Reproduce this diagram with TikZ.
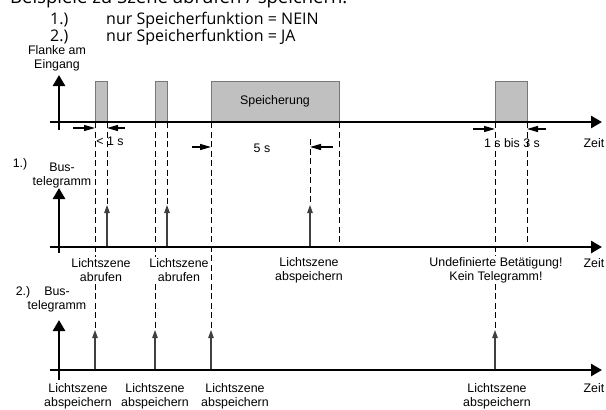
\documentclass[tikz,border=0pt]{standalone}
\usepackage{fontspec}
\setmainfont{Liberation Sans}
\newfontfamily\headfont{Open Sans}
\usepackage{tikz}
\usetikzlibrary{arrows.meta,positioning}
\definecolor{pulsefill}{RGB}{192,192,192}
\definecolor{pulseline}{RGB}{120,120,120}

\begin{document}
\begin{tikzpicture}[x=1pt,y=-1pt,
    lbl/.style={align=center,font=\fontsize{12.4}{14}\selectfont,inner sep=1pt},
    cutlbl/.style={lbl,fill=white},
    head/.style={anchor=base west,inner sep=0pt,font=\headfont\fontsize{16}{18}\selectfont},
    pulse/.style={draw=pulseline,fill=pulsefill,line width=0.8pt,inner sep=0pt,outer sep=0pt,anchor=south west,minimum height=41pt},
    axis/.style={line width=2.6pt,-{Triangle[length=11pt,width=12pt]}},
    yaxis/.style={line width=2.6pt,-{Triangle[length=11pt,width=12pt]}},
    tele/.style={line width=1.2pt,draw=black!75,-{Triangle[length=8pt,width=5.5pt]}},
    dim/.style={line width=1.3pt,-{Triangle[length=11pt,width=6pt]}},
    guide/.style={line width=0.9pt,dash pattern=on 6pt off 3.5pt}]
   \useasboundingbox (0,0) rectangle (606,410);
   \node[head,font=\headfont\fontsize{18.5}{20}\selectfont] (title) at (10,3) {Beispiele zu Szene abrufen / speichern:};
   \node[head] (n1) at (50,24) {1.)};
   \node[head] (t1) at (106,24) {nur Speicherfunktion = NEIN};
   \node[head] (n2) at (50,41) {2.)};
   \node[head] (t2) at (106,41) {nur Speicherfunktion = JA};
   % Flanke am Eingang
   \node[pulse,minimum width=12pt] (p1) at (95,122) {};
   \node[pulse,minimum width=12pt] (p2) at (155,122) {};
   \node[pulse,minimum width=128pt,font=\fontsize{12.4}{14}\selectfont] (sp) at (211,122) {Speicherung};
   \node[pulse,minimum width=32pt] (p4) at (495,122) {};
   \coordinate (e0) at (50,122);   \coordinate (e1) at (602,122);
   \coordinate (ebot) at (59,130); \coordinate (etop) at (59,75);
   \coordinate (b0) at (50,247);   \coordinate (b1) at (602,247);
   \coordinate (bbot) at (59,253); \coordinate (btop) at (59,188);
   \coordinate (c0) at (50,370);   \coordinate (c1) at (602,370);
   \coordinate (cbot) at (59,380); \coordinate (ctop) at (59,320);
   \coordinate (r1) at (107,205); \coordinate (r2) at (167,205); \coordinate (r3) at (310,205);
   \coordinate (w1) at (95,330);  \coordinate (w2) at (155,330);
   \coordinate (w3) at (211,330); \coordinate (w4) at (495,330);
   \coordinate (m5) at (310,139);
   \draw[guide] (p1.south west) -- (w1);
   \draw[guide] (p1.south east) -- (r1);
   \draw[guide] (p2.south west) -- (w2);
   \draw[guide] (p2.south east) -- (r2);
   \draw[guide] (sp.south west) -- (w3);
   \draw[guide] (sp.south east) -- (sp.south east |- b0);
   \draw[guide] (m5) -- (r3);
   \draw[guide] (p4.south west) -- (w4);
   \draw[guide] (p4.south east) -- (p4.south east |- b0);
   \draw[tele] (r1 |- b0) -- (r1);
   \draw[tele] (r2 |- b0) -- (r2);
   \draw[tele] (r3 |- b0) -- (r3);
   \draw[tele] (w1 |- c0) -- (w1);
   \draw[tele] (w2 |- c0) -- (w2);
   \draw[tele] (w3 |- c0) -- (w3);
   \draw[tele] (w4 |- c0) -- (w4);
   \draw[axis] (e0) -- (e1);
   \draw[yaxis] (ebot) -- (etop);
   \draw[axis] (b0) -- (b1);
   \draw[yaxis] (bbot) -- (btop);
   \draw[axis] (c0) -- (c1);
   \draw[yaxis] (cbot) -- (ctop);
   \coordinate (d1a) at (73,128);  \coordinate (d1b) at (125,128);
   \coordinate (d2a) at (192,147); \coordinate (d2b) at (333,147);
   \coordinate (d3a) at (473,129); \coordinate (d3b) at (546,129);
   \draw[dim] (d1a) -- (d1a -| p1.south west);
   \draw[dim] (d1b) -- (d1b -| p1.south east);
   \draw[dim] (d2a) -- (d2a -| sp.south west);
   \draw[dim] (d2b) -- (d2b -| m5);
   \draw[dim] (d3a) -- (d3a -| p4.south west);
   \draw[dim] (d3b) -- (d3b -| p4.south east);
   \node[lbl] (fl) at (57,58) {Flanke am\\Eingang};
   \node[lbl] (lt1) at (110,141) {< 1 s};
   \node[lbl] (l5) at (262,148) {5 s};
   \node[lbl] (l13) at (512,143) {1 s bis 3 s};
   \node[lbl] (z0) at (594,143) {Zeit};
   \node[lbl] (z1) at (594,263) {Zeit};
   \node[lbl] (z2) at (594,388) {Zeit};
   \node[lbl] (k1) at (20,164) {1.)};
   \node[lbl] (bt1) at (62,176) {Bus-\\telegramm};
   \node[lbl] (k2) at (23,292) {2.)};
   \node[lbl] (bt2) at (57,300) {Bus-\\telegramm};
   \node[cutlbl] (ab1) at (101,270) {Lichtszene\\abrufen};
   \node[cutlbl] (ab2) at (179,270) {Lichtszene\\abrufen};
   \node[cutlbl] (as1) at (309,270) {Lichtszene\\abspeichern};
   \node[cutlbl] (undef) at (496,270) {Undefinierte Betätigung!\\Kein Telegramm!};
   \node[lbl] (sv1) at (78,396) {Lichtszene\\abspeichern};
   \node[lbl] (sv2) at (155,396) {Lichtszene\\abspeichern};
   \node[lbl] (sv3) at (235,396) {Lichtszene\\abspeichern};
   \node[lbl] (sv4) at (497,396) {Lichtszene\\abspeichern};
  \end{tikzpicture}
\end{document}
